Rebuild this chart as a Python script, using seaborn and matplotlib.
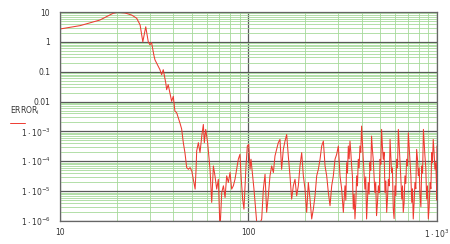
import matplotlib
matplotlib.use("Agg")
import matplotlib.pyplot as plt
from matplotlib.lines import Line2D
from matplotlib.ticker import LogLocator, FixedLocator, FixedFormatter, NullFormatter
import seaborn as sns
import pandas as pd

# ---- data ----
x_start = [10, 12.8, 16.3, 19.1, 20.2, 22.1, 24.0, 25.5, 26.6, 27.5, 28.5, 29.4, 30.0,
           30.6, 31.5, 31.9, 33.9, 34.6, 35.3, 36.4, 36.8, 37.5, 39.1, 39.9, 40.7, 41.6,
           43.3, 44.2]
y_start = [2.7, 3.5, 5.4, 9.0, 9.8, 9.3, 7.9, 6.2, 3.7, 1.0, 3.2, 1.0, 0.8,
           0.95, 0.35, 0.25, 0.117, 0.079, 0.117, 0.042, 0.025, 0.037, 0.0102, 0.015,
           0.0048, 0.0042, 0.0019, 0.0012]

x_mid = [45.1, 46.0, 47.0, 48.0, 49.0, 50.0, 52.1, 52.7, 53.1, 54.2, 55.3, 56.5, 57.6,
         58.3, 59.3, 60.7, 62.5, 63.8, 65.1, 66.4, 67.8, 69.2, 70.6, 72.1, 73.6, 75.1,
         76.6, 78.2, 79.8, 81.4, 83.1, 84.8, 86.5, 88.3, 90.1, 91.3, 93.1, 94.6, 97.0,
         98.6, 100.3, 101.9, 103.1, 104.8, 106.9, 109.1, 111.4]
y_mid = [4.2e-4, 1.95e-4, 6.15e-5, 5.4e-5, 6.15e-5, 4.76e-5, 1.17e-5, 5.4e-5, 2.21e-4,
         4.2e-4, 1.95e-4, 7.0e-4, 1.71e-3, 4.2e-4, 1.17e-3, 4.2e-4, 5.4e-5, 4.2e-6,
         7.0e-5, 3.25e-5, 1.17e-5, 2.5e-5, 5e-7, 9.0e-6, 1.51e-5, 6.15e-6, 3.25e-5,
         1.95e-5, 4.2e-5, 1.17e-5, 1.51e-5, 2.5e-5, 5.4e-5, 1.17e-4, 1.71e-4, 3.25e-5,
         5.4e-6, 2.5e-6, 7.0e-5, 3.25e-4, 3.69e-4, 5.4e-5, 1.17e-4, 4.2e-5, 1.17e-5,
         2.5e-6, 5e-7]

x_late = [117.5, 119.9, 122.4, 124.8, 127.4, 130.0, 132.7, 135.5, 138.2, 141.0, 143.9,
          146.9, 149.9, 153.0, 156.2, 159.4, 162.6, 166.0, 169.4, 172.9, 176.5, 180.1,
          183.8, 187.6, 191.5, 195.4, 199.4, 203.5, 207.7, 212.0, 216.4, 220.8, 225.4,
          230.0, 234.7, 239.6, 244.5, 249.5, 254.7, 259.9, 265.2, 270.7, 276.3, 281.9,
          287.7, 293.6, 299.7, 305.8, 312.1, 318.5]
y_late = [1.17e-6, 1.17e-5, 3.69e-5, 1.95e-6, 7.0e-6, 3.25e-5, 7.0e-5, 4.2e-5, 1.51e-4,
          2.5e-4, 4.2e-4, 5.4e-4, 5.4e-5, 2.5e-4, 4.76e-4, 7.9e-4, 1.51e-4, 3.25e-5,
          5.4e-6, 1.51e-5, 2.5e-5, 7.0e-6, 1.51e-5, 7.0e-5, 1.95e-4, 3.25e-5, 1.17e-5,
          1.95e-6, 1.95e-5, 5.4e-6, 1.17e-6, 2.5e-6, 7.0e-6, 3.25e-5, 5.4e-5, 1.17e-4,
          3.25e-4, 4.76e-4, 7.0e-5, 3.25e-5, 9.0e-6, 3.25e-6, 1.51e-5, 3.25e-5, 1.17e-4,
          1.71e-4, 3.25e-4, 3.25e-5, 1.17e-5, 1.95e-6]

x_end = [325.0, 331.7, 338.5, 345.4, 352.5, 359.7, 367.1, 374.6, 382.3, 390.1, 398.1,
         406.3, 414.6, 423.1, 431.8, 440.6, 449.6, 458.8, 468.2, 477.8, 488.7, 498.9,
         508.2, 518.8, 529.7, 540.8, 552.1, 563.6, 574.1, 586.1, 598.4, 610.9, 623.7,
         636.8, 650.1, 662.2, 676.1, 690.2, 704.7, 719.5, 734.5, 748.2, 763.9, 779.8,
         796.2, 812.8, 829.9, 847.2, 863.0, 881.0, 899.5, 918.3, 937.6, 955.0, 975.0,
         995.4, 1000.0]
y_end = [1.51e-5, 9.0e-5, 3.25e-4, 4.76e-4, 7.0e-5, 2.5e-6, 1.17e-6, 3.25e-5, 1.17e-4,
         3.25e-4, 1.51e-3, 1.17e-4, 1.17e-5, 1.17e-6, 1.95e-5, 9.0e-5, 7.0e-4, 1.17e-4,
         9.0e-6, 1.51e-6, 1.51e-5, 1.17e-4, 1.17e-3, 1.17e-4, 9.0e-6, 1.95e-6, 2.5e-5,
         5.4e-4, 4.2e-5, 2.5e-6, 1.51e-5, 1.17e-4, 1.17e-3, 9.0e-5, 5.4e-6, 1.95e-6,
         3.25e-5, 1.17e-4, 9.0e-4, 9.0e-5, 4.2e-6, 1.17e-6, 1.95e-5, 2.5e-4, 3.25e-5,
         7.0e-6, 7.0e-5, 1.17e-3, 1.51e-4, 5.4e-6, 1.17e-6, 1.95e-5, 1.95e-4, 5.4e-4,
         5.4e-5, 1.17e-5, 3.25e-4]

x_end_fill = [328.3, 335.1, 341.9, 349.0, 356.1, 363.4, 370.8, 378.4, 386.2, 394.1,
              402.2, 410.4, 418.8, 427.4, 436.2, 445.1, 454.2, 463.5, 473.0, 483.2,
              493.8, 503.5, 513.5, 524.2, 535.2, 546.4, 557.8, 568.8, 580.1, 592.2,
              604.6, 617.3, 630.2, 643.4, 656.1, 669.1, 683.1, 697.4, 712.1, 727.0,
              741.3, 756.0, 771.8, 788.0, 804.5, 821.3, 838.5, 855.1, 872.0, 890.2,
              908.9, 927.9, 946.3, 965.0, 985.2, 997.7]
y_end_fill = [5e-6, 4e-5, 1.2e-4, 2e-4, 3e-5, 8e-6, 4e-6, 1.5e-5, 6e-5, 2e-4,
              4e-4, 4e-5, 3e-5, 5e-6, 8e-6, 5e-5, 2.5e-4, 3e-5, 2e-5, 4e-6,
              9e-6, 8e-5, 3e-4, 2e-4, 2.2e-5, 6e-6, 1.5e-5, 1.5e-4, 6e-5, 1.2e-6,
              7e-6, 6e-5, 3.5e-4, 2.5e-5, 1.5e-5, 4e-6, 1.8e-5, 7e-5, 3e-4, 3e-5,
              1.2e-5, 4e-6, 1.2e-5, 1.2e-4, 6e-5, 3e-6, 4e-5, 4e-4, 6e-5, 1.5e-5,
              3e-6, 1.2e-5, 9e-5, 2e-4, 9e-5, 5e-6]

x_ticks = [10, 100, 1000]
x_tick_labels = ["10", "100", r"$1\cdot10^{3}$"]
y_ticks = [1e-6, 1e-5, 1e-4, 1e-3, 0.01, 0.1, 1, 10]
y_tick_labels = [r"$1\cdot10^{-6}$", r"$1\cdot10^{-5}$", r"$1\cdot10^{-4}$",
                 r"$1\cdot10^{-3}$", "0.01", "0.1", "1", "10"]
series_label = r"ERROR$_\mathregular{i}$"

df = pd.DataFrame({"x": x_start + x_mid + x_late + x_end + x_end_fill,
                   "y": y_start + y_mid + y_late + y_end + y_end_fill})
df = df.sort_values("x").reset_index(drop=True)

sns.set_style("white")
plt.rcParams["font.family"] = ["DejaVu Sans"]
plt.rcParams["mathtext.fontset"] = "dejavusans"

fig = plt.figure(figsize=(4.5, 2.44), dpi=100)
ax = fig.add_axes([60/450, 1-221/244, 377/450, 209/244])

sns.lineplot(data=df, x="x", y="y", ax=ax, color="#ee3a30", lw=0.75,
             sort=False, estimator=None, legend=False)

ax.set_xscale("log")
ax.set_yscale("log")
ax.set_xlim(10, 1000)
ax.set_ylim(1e-6, 10)

ax.xaxis.set_major_locator(FixedLocator(x_ticks))
ax.xaxis.set_major_formatter(FixedFormatter(x_tick_labels))
ax.yaxis.set_major_locator(FixedLocator(y_ticks))
ax.yaxis.set_major_formatter(FixedFormatter(y_tick_labels))
ax.xaxis.set_minor_locator(LogLocator(base=10, subs=range(2, 10), numticks=20))
ax.yaxis.set_minor_locator(LogLocator(base=10, subs=range(2, 10), numticks=20))
ax.xaxis.set_minor_formatter(NullFormatter())
ax.yaxis.set_minor_formatter(NullFormatter())

ax.grid(which="minor", color="#a6d99a", lw=0.6)
ax.grid(which="major", color="#5a5a5a", lw=0.9)
ax.set_axisbelow(True)
ax.tick_params(which="both", length=0, labelsize=5.5, colors="#333333")
ax.tick_params(axis="y", pad=7)
ax.tick_params(axis="x", pad=5)
for s in ax.spines.values():
    s.set_color("#666666")
    s.set_linewidth(0.9)
ax.set_xlabel("")
ax.set_ylabel("")

fig.text(10/450, 1-111/244, series_label, fontsize=5.5, color="#333333",
         va="center", ha="left")
fig.add_artist(Line2D([10/450, 25/450], [1-123/244, 1-123/244],
                      color="#ee3a30", lw=0.7))

fig.savefig("out.png", dpi=100)
